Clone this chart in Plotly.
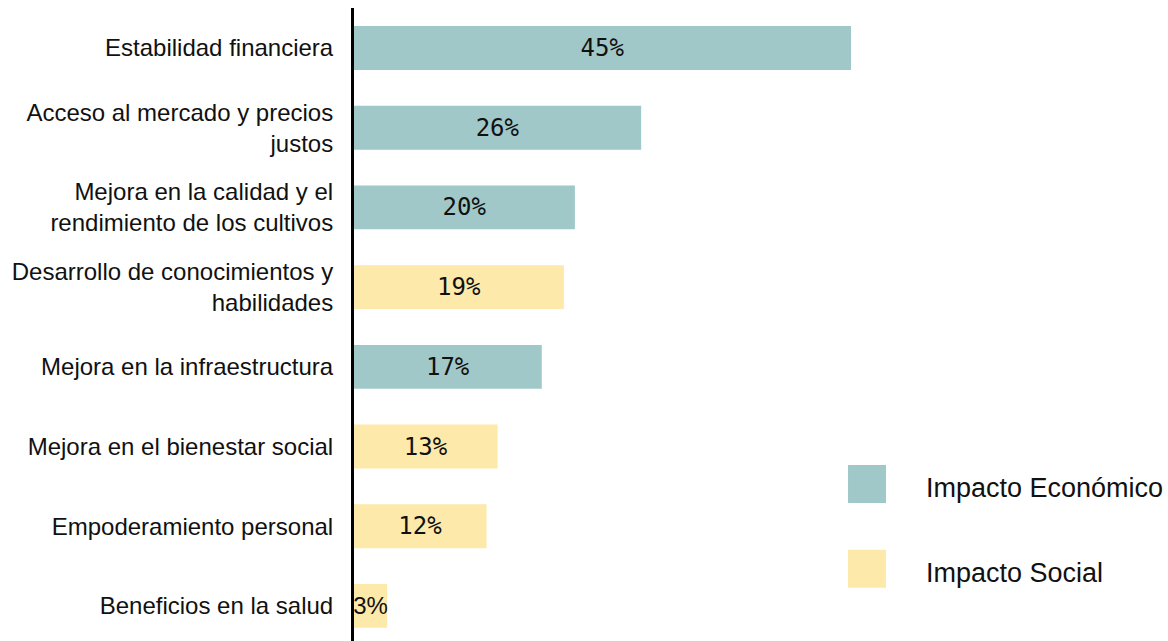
import plotly.graph_objects as go

# data
categories = [
    "Estabilidad financiera",
    "Acceso al mercado y precios<br>justos",
    "Mejora en la calidad y el<br>rendimiento de los cultivos",
    "Desarrollo de conocimientos y<br>habilidades",
    "Mejora en la infraestructura",
    "Mejora en el bienestar social",
    "Empoderamiento personal",
    "Beneficios en la salud",
]
values = [45, 26, 20, 19, 17, 13, 12, 3]
impact = ["Económico", "Económico", "Económico", "Social", "Económico", "Social", "Social", "Social"]
legend_labels = ["Impacto Económico", "Impacto Social"]

eco_col = "#A1C8C9"
soc_col = "#FDE9AA"
colors = [eco_col if t == "Económico" else soc_col for t in impact]
label_font = "Liberation Sans, Arial, sans-serif"
mono_font = "DejaVu Sans Mono, monospace"
text_fonts = [mono_font if v > 5 else label_font for v in values]

fig = go.Figure()
fig.add_trace(go.Bar(
    x=values, y=categories, orientation="h",
    marker=dict(color=colors, line=dict(width=0)),
    width=0.55,
    text=[f"{v}%" for v in values],
    textposition="inside", insidetextanchor="middle",
    constraintext="none", textangle=0,
    textfont=dict(family=text_fonts, size=24, color="#111111"),
    hoverinfo="skip",
    showlegend=False,
))

fig.update_layout(
    width=1168, height=641,
    margin=dict(l=354, r=0, t=8, b=0),
    plot_bgcolor="white", paper_bgcolor="white",
    font=dict(family=label_font, color="#111111"),
)

fig.update_xaxes(range=[0, 73.7], showgrid=False, zeroline=False,
                 showticklabels=False, showline=False)
fig.update_yaxes(range=[7.44, -0.502], showgrid=False, zeroline=False,
                 showline=True, linecolor="black", linewidth=3,
                 ticks="", ticklabelstandoff=13, automargin=False,
                 tickfont=dict(size=24, family=label_font, color="#111111"))

# legend boxes, drawn by hand
leg_cols = [eco_col, soc_col]
leg_y = [0.248, 0.114]
for lab, c, yy in zip(legend_labels, leg_cols, leg_y):
    fig.add_shape(type="rect", xref="paper", yref="paper",
                  x0=0.6069, x1=0.6536, y0=yy - 0.030, y1=yy + 0.030,
                  fillcolor=c, line=dict(width=0))
    fig.add_annotation(xref="paper", yref="paper", x=0.7002, y=yy - 0.007,
                       text=lab, showarrow=False, xanchor="left", yanchor="middle",
                       font=dict(size=27, family=label_font, color="#111111"))

fig.write_html("out.html", config={"displayModeBar": False},
               post_script="document.body.style.margin='0';")
